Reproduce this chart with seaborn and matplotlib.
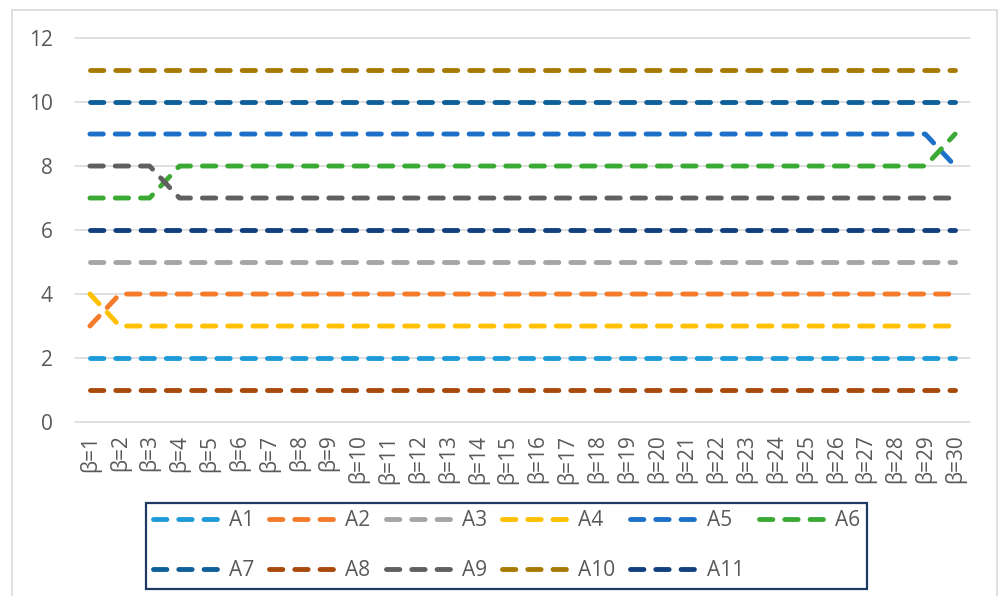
import matplotlib
matplotlib.use("Agg")
import matplotlib.pyplot as plt
import pandas as pd
import seaborn as sns
from matplotlib.lines import Line2D
from matplotlib.patches import Rectangle

# Category labels along the x axis
beta_labels = ["β=1", "β=2", "β=3", "β=4", "β=5", "β=6", "β=7", "β=8", "β=9", "β=10",
               "β=11", "β=12", "β=13", "β=14", "β=15", "β=16", "β=17", "β=18", "β=19", "β=20",
               "β=21", "β=22", "β=23", "β=24", "β=25", "β=26", "β=27", "β=28", "β=29", "β=30"]

# Rank of each alternative for every β
A1 = [2] * 30
A2 = [3] + [4] * 29
A3 = [5] * 30
A4 = [4] + [3] * 29
A5 = [9] * 29 + [8]
A6 = [7] * 3 + [8] * 26 + [9]
A7 = [10] * 30
A8 = [1] * 30
A9 = [8] * 3 + [7] * 27
A10 = [11] * 30
A11 = [6] * 30

series_names = ["A1", "A2", "A3", "A4", "A5", "A6", "A7", "A8", "A9", "A10", "A11"]
series_values = [A1, A2, A3, A4, A5, A6, A7, A8, A9, A10, A11]
series_colors = ["#1E9AD8", "#F47B2A", "#A5A5A5", "#FFC000", "#1C70C8", "#3BAA35",
                 "#0F5F9A", "#A84A0A", "#606060", "#A77A06", "#123F7E"]

rows = []
for name, vals in zip(series_names, series_values):
    for i, v in enumerate(vals):
        rows.append({"series": name, "pos": i, "value": v})
df = pd.DataFrame(rows)

sns.set_theme(style="white")
plt.rcParams["font.family"] = ["Open Sans", "DejaVu Sans"]

text_color = "#595959"
fig = plt.figure(figsize=(9.99, 5.96), dpi=100)
ax = fig.add_axes([0.0751, 0.2919, 0.8959, 0.6443])

LW = 3.5
DASH = (2.75, 2.45)
palette = dict(zip(series_names, series_colors))
sns.lineplot(data=df, x="pos", y="value", hue="series", hue_order=series_names,
             palette=palette, linewidth=LW, legend=False, sort=False, ax=ax)
for line in ax.lines:
    line.set_dashes(DASH)
    line.set_dash_capstyle("round")
    line.set_dash_joinstyle("round")

ax.set_xlim(-0.5, 29.5)
ax.set_ylim(0, 12)
ax.set_yticks(range(0, 13, 2))
ax.set_xticks(range(30))
ax.set_xticklabels(beta_labels, rotation=90)
ax.set_xlabel("")
ax.set_ylabel("")
ax.yaxis.grid(True, color="#D9D9D9", linewidth=1.2)
ax.xaxis.grid(False)
ax.set_axisbelow(True)
for s in ax.spines.values():
    s.set_visible(False)
ax.tick_params(axis="y", length=0, pad=16, labelsize=15, labelcolor=text_color)
ax.tick_params(axis="x", length=0, pad=9, labelsize=15, labelcolor=text_color)
for gl in ax.yaxis.get_gridlines():
    gl.set_clip_on(False)

# Legend laid out in two rows, A1–A6 on top and A7–A11 below
order = [0, 6, 1, 7, 2, 8, 3, 9, 4, 10, 5]
handles = [Line2D([0], [0], color=series_colors[i], linewidth=LW, dashes=DASH,
                  dash_capstyle="round") for i in order]
labels = [series_names[i] for i in order]
leg = fig.legend(handles, labels, ncol=6, loc="upper center",
                 bbox_to_anchor=(0.507, 0.156), borderaxespad=0, frameon=True,
                 fancybox=False, edgecolor="#1F3864", framealpha=1, borderpad=0.35,
                 labelspacing=1.4, handlelength=3.3, handletextpad=0.35,
                 columnspacing=0.73, fontsize=15)
leg.get_frame().set_linewidth(1.6)
for t in leg.get_texts():
    t.set_color(text_color)

# Chart-area border
fig.patches.append(Rectangle((12 / 999, -0.02), 985 / 999, 1 - 10 / 596 + 0.02,
                             transform=fig.transFigure, fill=False,
                             edgecolor="#D9D9D9", linewidth=1.2))

fig.savefig("out.png", dpi=100)
